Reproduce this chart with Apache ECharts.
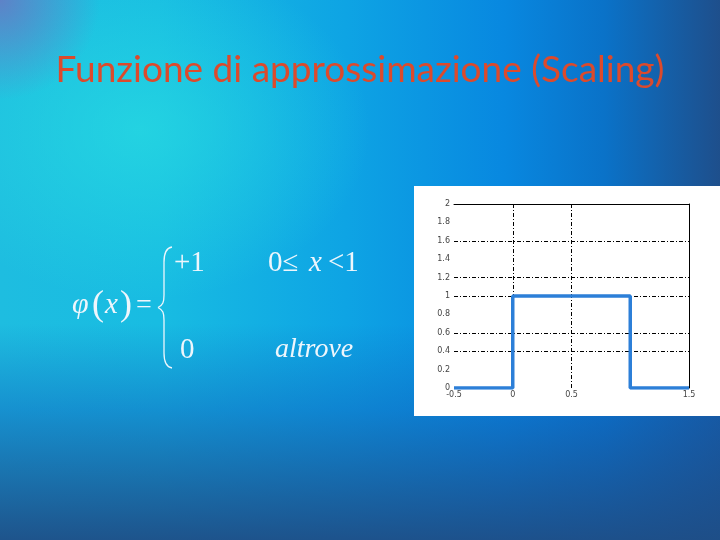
<!DOCTYPE html>
<html>
<head>
<meta charset="utf-8">
<script src="https://cdn.jsdelivr.net/npm/echarts@6/dist/echarts.min.js"></script>
<style>
html,body{margin:0;padding:0;}
body{
  width:720px;height:540px;overflow:hidden;
  background:
    radial-gradient(circle at 0px 0px, rgba(105,120,195,0.85) 0px, rgba(105,120,195,0) 100px),
    radial-gradient(ellipse 230px 170px at 140px 130px, rgba(40,220,225,0.7) 0%, rgba(40,220,225,0) 100%),
    linear-gradient(to bottom, rgba(25,80,150,0) 0%, rgba(25,80,150,0) 60%, rgba(15,100,190,0.5) 76%, rgba(30,78,135,0.95) 100%),
    linear-gradient(to right, #1ebde0 0%, #18bce2 22%, #0ea4e4 48%, #0888e0 70%, #0a72c8 84%, #1e4f8c 100%);
}
#chart{width:720px;height:540px;}
</style>
</head>
<body>
<div id="chart"></div>
<script>
// data
var xValues = [-0.5, 0, 0, 1, 1, 1.5];
var yValues = [0, 0, 1, 1, 0, 0];
var xTicks = [-0.5, 0, 0.5, 1, 1.5];
var yTicks = [0, 0.2, 0.4, 0.6, 0.8, 1, 1.2, 1.4, 1.6, 1.8, 2];
var xGridLines = [0, 0.5];
var yGridLines = [0.4, 0.6, 1, 1.2, 1.6];
var hiddenXLabels = [1];

var chart = echarts.init(document.getElementById('chart'), null, {renderer:'canvas'});
var serif = '"Liberation Serif", "DejaVu Serif", serif';
var white = '#eef6fc';

var points = xValues.map(function(x, i){ return [x, yValues[i]]; });
var gridMarks = xGridLines.map(function(v){ return {xAxis: v}; })
  .concat(yGridLines.map(function(v){ return {yAxis: v}; }));

function fmt(v){
  if (hiddenXLabels.indexOf(v) >= 0) return '';
  return String(v);
}

var braceStyle = {stroke:white, fill:null, lineWidth:1.3};
function bez(x1,y1,c1x,c1y,c2x,c2y,x2,y2){
  return {type:'bezierCurve', shape:{x1:x1,y1:y1,cpx1:c1x,cpy1:c1y,cpx2:c2x,cpy2:c2y,x2:x2,y2:y2}, style:braceStyle};
}
function seg(x1,y1,x2,y2){
  return {type:'line', shape:{x1:x1,y1:y1,x2:x2,y2:y2}, style:braceStyle};
}

chart.setOption({
  backgroundColor: 'transparent',
  animation: false,
  title: {
    text: 'Funzione di approssimazione (Scaling)',
    left: 'center',
    top: 47,
    textStyle: {
      color: '#dc4a2c',
      fontFamily: 'Lato, "Open Sans", sans-serif',
      fontWeight: 'normal',
      fontSize: 37
    }
  },
  graphic: [
    {type:'rect', z:-10, shape:{x:414, y:186, width:306, height:230}, style:{fill:'#ffffff'}},
    {type:'text', x:72, y:305, style:{text:'φ', font:'italic 30px ' + serif, fill:white, textVerticalAlign:'middle'}},
    {type:'text', x:92, y:306, style:{text:'(', font:'36px ' + serif, fill:white, textVerticalAlign:'middle'}},
    {type:'text', x:105, y:305, style:{text:'x', font:'italic 29px ' + serif, fill:white, textVerticalAlign:'middle'}},
    {type:'text', x:120, y:306, style:{text:')', font:'36px ' + serif, fill:white, textVerticalAlign:'middle'}},
    {type:'text', x:136, y:306, style:{text:'=', font:'28px ' + serif, fill:white, textVerticalAlign:'middle'}},
    bez(172,247, 166,248, 164,254, 164,262),
    seg(164,262, 164,295),
    bez(164,295, 164,302, 163,305, 158,307.5),
    bez(158,307.5, 163,310, 164,313, 164,320),
    seg(164,320, 164,353),
    bez(164,353, 164,361, 166,367, 172,368),
    {type:'text', x:174, y:263, style:{text:'+1', font:'29px ' + serif, fill:white, textVerticalAlign:'middle'}},
    {type:'text', x:268, y:263, style:{text:'0\u2264', font:'29px ' + serif, fill:white, textVerticalAlign:'middle'}},
    {type:'text', x:309, y:263, style:{text:'x', font:'italic 29px ' + serif, fill:white, textVerticalAlign:'middle'}},
    {type:'text', x:328, y:263, style:{text:'<1', font:'29px ' + serif, fill:white, textVerticalAlign:'middle'}},
    {type:'text', x:180, y:350, style:{text:'0', font:'29px ' + serif, fill:white, textVerticalAlign:'middle'}},
    {type:'text', x:275, y:350, style:{text:'altrove', font:'italic 28px ' + serif, fill:white, textVerticalAlign:'middle'}}
  ],
  grid: {left:454, right:31, top:204, bottom:152, containLabel:false},
  xAxis: [
    {type:'value', min:-0.5, max:1.5, interval:0.5,
     axisLine:{show:false}, axisTick:{show:false}, splitLine:{show:false},
     axisLabel:{formatter:fmt, fontSize:8, color:'#444', margin:3, fontFamily:'"DejaVu Sans", sans-serif'}},
    {type:'value', position:'top', min:-0.5, max:1.5, interval:0.5,
     axisLine:{show:true, onZero:false, lineStyle:{color:'#000', width:1}}, axisTick:{show:false}, axisLabel:{show:false}, splitLine:{show:false}}
  ],
  yAxis: [
    {type:'value', min:0, max:2, interval:0.2,
     axisLine:{show:false}, axisTick:{show:false}, splitLine:{show:false},
     axisLabel:{fontSize:8, color:'#444', margin:4, fontFamily:'"DejaVu Sans", sans-serif'}},
    {type:'value', position:'right', min:0, max:2, interval:0.2,
     axisLine:{show:true, onZero:false, lineStyle:{color:'#000', width:1}}, axisTick:{show:false}, axisLabel:{show:false}, splitLine:{show:false}}
  ],
  series: [
    {type:'line', data:[], silent:true,
     markLine:{silent:true, symbol:['none','none'], label:{show:false},
       lineStyle:{color:'#000', width:1, type:[4,2,1,2]}, data:gridMarks}},
    {type:'line', data:points, showSymbol:false, symbol:'none', z:5,
     lineStyle:{color:'#2c7fd8', width:3.5}, itemStyle:{color:'#2c7fd8'}}
  ]
});
</script>
</body>
</html>
